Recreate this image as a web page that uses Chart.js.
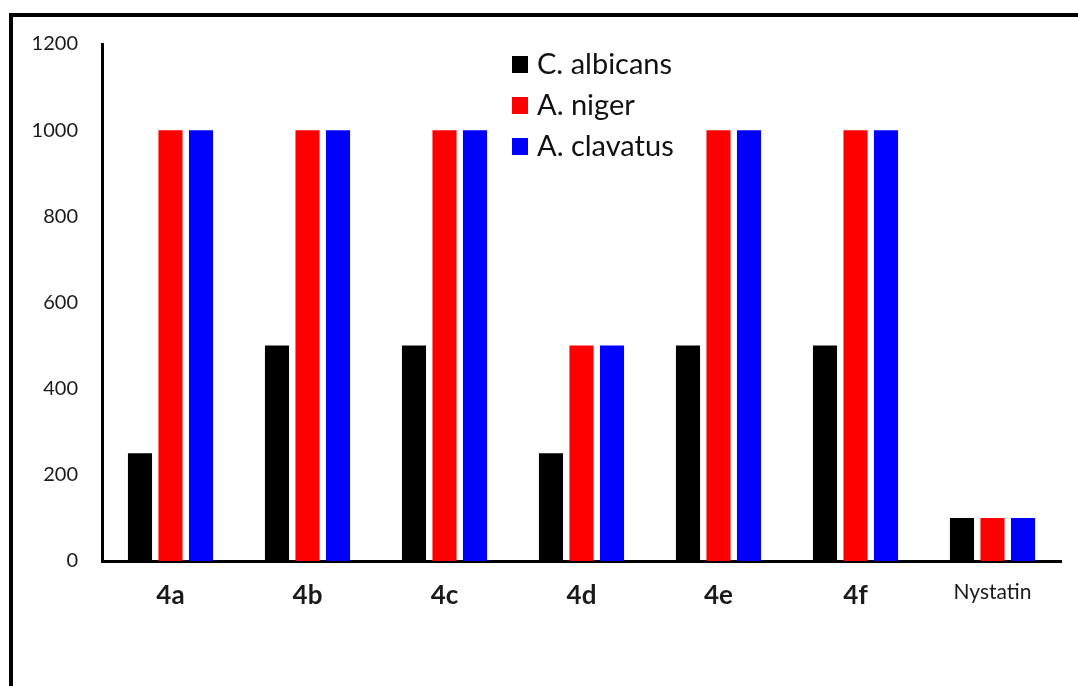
<!DOCTYPE html>
<html>
<head>
<meta charset="utf-8">
<script src="https://cdn.jsdelivr.net/npm/chart.js@4.4.1/dist/chart.umd.min.js"></script>
<style>
  html, body { margin: 0; padding: 0; background: #fff; }
  #wrap { width: 1078px; height: 686px; position: relative; }
</style>
</head>
<body>
<div id="wrap"><canvas id="c" width="1078" height="686"></canvas></div>
<script>
const categories = ['4a', '4b', '4c', '4d', '4e', '4f', 'Nystatin'];
const seriesNames = ['C. albicans', 'A. niger', 'A. clavatus'];
const cAlbicans = [250, 500, 500, 250, 500, 500, 100];
const aNiger    = [1000, 1000, 1000, 500, 1000, 1000, 100];
const aClavatus = [1000, 1000, 1000, 500, 1000, 1000, 100];
const seriesColors = ['#000000', '#FF0000', '#0000FF'];
const yTicks = [0, 200, 400, 600, 800, 1000, 1200];

const FONT = 'Lato, "Open Sans", "Liberation Sans", sans-serif';

const framePlugin = {
  id: 'frame',
  beforeDraw(chart) {
    const ctx = chart.ctx;
    ctx.save();
    ctx.fillStyle = '#ffffff';
    ctx.fillRect(0, 0, chart.width, chart.height);
    ctx.fillStyle = '#000000';
    ctx.fillRect(9, 13, chart.width - 9, 4);
    ctx.fillRect(9, 13, 4, chart.height - 13);
    ctx.restore();
  }
};

const legendPlugin = {
  id: 'customLegend',
  afterDraw(chart) {
    const ctx = chart.ctx;
    ctx.save();
    const rows = [64, 105, 146];
    chart.data.datasets.forEach((ds, i) => {
      ctx.fillStyle = ds.backgroundColor;
      ctx.fillRect(512, rows[i] - 8, 16, 17);
      ctx.fillStyle = '#111111';
      ctx.font = '29px ' + FONT;
      ctx.textBaseline = 'middle';
      ctx.textAlign = 'left';
      ctx.fillText(ds.label, 537, rows[i] + 1);
    });
    ctx.restore();
  }
};

new Chart(document.getElementById('c'), {
  type: 'bar',
  data: {
    labels: categories,
    datasets: [
      { label: seriesNames[0], data: cAlbicans, backgroundColor: seriesColors[0] },
      { label: seriesNames[1], data: aNiger, backgroundColor: seriesColors[1] },
      { label: seriesNames[2], data: aClavatus, backgroundColor: seriesColors[2] }
    ]
  },
  options: {
    responsive: false,
    animation: false,
    devicePixelRatio: 1,
    layout: { padding: { top: 44, right: 17, left: 0, bottom: 0 } },
    datasets: {
      bar: { categoryPercentage: 0.668, barPercentage: 0.79, borderWidth: 0 }
    },
    plugins: {
      legend: { display: false },
      tooltip: { enabled: false },
      title: { display: false }
    },
    scales: {
      x: {
        grid: { display: false, drawTicks: false },
        border: { display: true, color: '#000000', width: 3 },
        ticks: {
          color: '#1a1a1a',
          padding: 19,
          font: (ctx) => (ctx.index === 6
            ? { family: FONT, size: 21, weight: 'normal' }
            : { family: FONT, size: 26, weight: 'bold' })
        },
        afterFit(scale) { scale.height = 125; }
      },
      y: {
        min: 0,
        max: 1200,
        grid: { display: false, drawTicks: false },
        border: { display: true, color: '#000000', width: 3 },
        afterBuildTicks(scale) { scale.ticks = yTicks.map(v => ({ value: v })); },
        ticks: {
          color: '#1a1a1a',
          padding: 24,
          font: { family: FONT, size: 20 },
          callback: (v) => String(v)
        },
        afterFit(scale) { scale.width = 102; }
      }
    }
  },
  plugins: [framePlugin, legendPlugin]
});
</script>
</body>
</html>
